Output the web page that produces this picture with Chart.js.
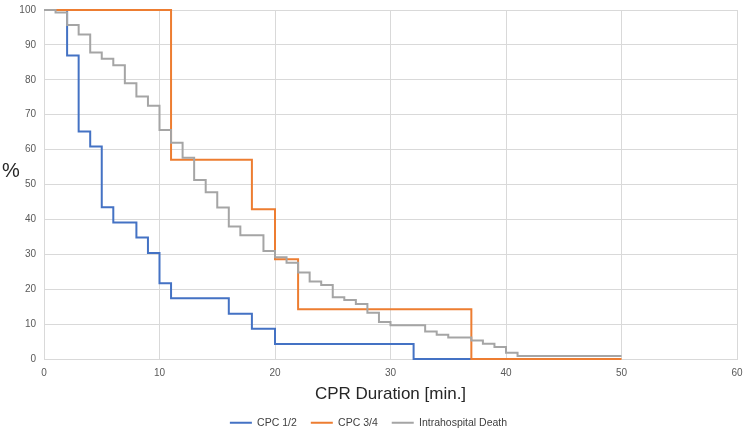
<!DOCTYPE html>
<html>
<head>
<meta charset="utf-8">
<script src="https://cdn.jsdelivr.net/npm/chart.js@4"></script>
<style>
    html, body { margin: 0; padding: 0; background: #ffffff; }
    #wrap { width: 744px; height: 433px; position: relative; }
</style>
</head>
<body>
<div id="wrap"><canvas id="chart"></canvas></div>
<script>
// Kaplan-Meier style step curves
const cpc12Minutes = [0, 2, 3, 4, 5, 6, 8, 9, 10, 11, 16, 18, 20, 32, 37];
const cpc12Percent = [100, 87, 65.2, 60.9, 43.5, 39.1, 34.8, 30.4, 21.7, 17.4, 13, 8.7, 4.3, 0, 0];

const cpc34Minutes = [0, 11, 18, 20, 22, 37, 50];
const cpc34Percent = [100, 57.1, 42.9, 28.6, 14.3, 0, 0];

const deathMinutes = [0, 1, 2, 3, 4, 5, 6, 7, 8, 9, 10, 11, 12, 13, 14, 15, 16, 17, 19, 20, 21, 22, 23, 24, 25, 26, 27, 28, 29, 30, 33, 34, 35, 37, 38, 39, 40, 41, 50];
const deathPercent = [100, 99.3, 95.7, 93, 87.8, 86, 84.2, 79, 75.2, 72.6, 65.6, 62, 57.7, 51.3, 47.8, 43.4, 38, 35.5, 31, 29.2, 27.6, 24.8, 22.2, 21.2, 17.7, 16.9, 15.8, 13.3, 10.6, 9.7, 7.9, 7, 6.2, 5.3, 4.4, 3.5, 1.8, 0.9, 0.9];

const xTicks = [0, 10, 20, 30, 40, 50, 60];
const yTicks = [0, 10, 20, 30, 40, 50, 60, 70, 80, 90, 100];

const FONT = "'Liberation Sans', Arial, sans-serif";
const GRID = "#d9d9d9";
const TICK = "#595959";

function toPoints(xs, ys) {
    return xs.map((x, i) => ({ x, y: ys[i] }));
}

function stepSeries(label, xs, ys, color, order) {
    return {
        label,
        data: toPoints(xs, ys),
        borderColor: color,
        backgroundColor: color,
        borderWidth: 2,
        stepped: "before",
        pointRadius: 0,
        pointHoverRadius: 0,
        fill: false,
        clip: 4,
        order,
    };
}

// "%" sits upright left of the axis, like the original, so draw it by hand
const percentLabel = {
    id: "percentLabel",
    afterDraw(chart) {
        const { ctx } = chart;
        ctx.save();
        ctx.font = `20px ${FONT}`;
        ctx.fillStyle = "#262626";
        ctx.textAlign = "center";
        ctx.textBaseline = "middle";
        ctx.fillText("%", 11, 171);
        ctx.restore();
    },
};

new Chart(document.getElementById("chart"), {
    type: "line",
    data: {
        datasets: [
            stepSeries("CPC 1/2", cpc12Minutes, cpc12Percent, "#4472c4", 2),
            stepSeries("CPC 3/4", cpc34Minutes, cpc34Percent, "#ed7d31", 1),
            stepSeries("Intrahospital Death", deathMinutes, deathPercent, "#a5a5a5", 0),
        ],
    },
    options: {
        responsive: true,
        maintainAspectRatio: false,
        animation: false,
        layout: { padding: { top: 10, right: 7, bottom: -5, left: 0 } },
        plugins: {
            tooltip: { enabled: false },
            legend: {
                position: "bottom",
                labels: {
                    usePointStyle: true,
                    pointStyle: "line",
                    pointStyleWidth: 22,
                    boxHeight: 2,
                    color: "#404040",
                    padding: 14,
                    font: { family: FONT, size: 10.5 },
                    sort: (a, b) => a.datasetIndex - b.datasetIndex,
                },
            },
        },
        scales: {
            x: {
                type: "linear",
                min: 0,
                max: 60,
                afterBuildTicks: (scale) => { scale.ticks = xTicks.map((v) => ({ value: v })); },
                afterFit: (scale) => { scale.paddingLeft = 0; scale.paddingRight = 0; },
                grid: { color: GRID, drawTicks: false },
                border: { color: GRID },
                ticks: { color: TICK, padding: 8, font: { family: FONT, size: 10 } },
                title: {
                    display: true,
                    text: "CPR Duration [min.]",
                    color: "#262626",
                    font: { family: FONT, size: 17 },
                    padding: { top: -3, bottom: -1 },
                },
            },
            y: {
                min: 0,
                max: 100,
                afterBuildTicks: (scale) => { scale.ticks = yTicks.map((v) => ({ value: v })); },
                afterFit: (scale) => { scale.width = 44; scale.paddingTop = 0; scale.paddingBottom = 0; },
                grid: { color: GRID, drawTicks: false },
                border: { color: GRID },
                ticks: { color: TICK, padding: 8, font: { family: FONT, size: 10 } },
            },
        },
    },
    plugins: [percentLabel],
});
</script>
</body>
</html>
